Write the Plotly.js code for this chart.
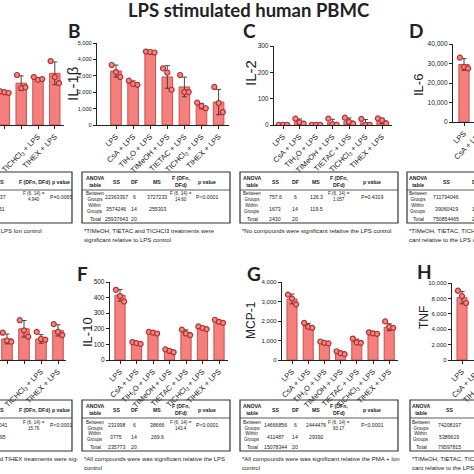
<!DOCTYPE html>
<html><head><meta charset="utf-8">
<script src="https://cdn.plot.ly/plotly-3.0.1.min.js"></script>
<style>html,body{margin:0;padding:0;overflow:hidden;background:#fff;width:474px;height:474px}#plot{width:500px;height:474px}</style>
</head><body><div id="plot"></div><script>
// ---------- data ----------
const categories = ["LPS","CsA + LPS","TIH<sub>2</sub>O + LPS","TIMeOH + LPS","TIETAC + LPS","TICHCl<sub>3</sub> + LPS","TIHEX + LPS"];

// A (axis off-screen, relative units)
const meanA = [null,null,null,40,51,56,63];
const ptsA  = [[],[],[],[41,40,39],[61,45,46],[58.5,55,56],[78,58.5,51]];
// B IL-1beta
const meanB = [3290,2560,4450,2930,2320,1150,1400];
const ptsB  = [[3660,3230,2930],[2700,2500,2450],[4480,4450,4420],[3450,3200,2150],[3050,2010,2010],[1360,1160,1020],[2320,1340,790]];
// C IL-2
const meanC = [1,13,1,9,15,8,16];
const ptsC  = [[1,1,1],[24,10,5],[1,1,1],[24,3,1],[28,12,5],[23,1,1],[25,18,6]];
// D IL-6
const meanD = [29500,null,null,null,null,null,null];
const ptsD  = [[33000,28300,27500],[],[],[],[],[],[]];
// E (axis off-screen, relative units)
const meanE = [null,null,null,27,40,27,38];
const ptsE  = [[],[],[],[35,25,23.5],[51,38,30],[36,27,26],[46,36,32]];
// F IL-10
const meanF = [415,110,175,58,175,205,245];
const ptsF  = [[450,410,375],[115,108,103],[180,176,170],[68,58,50],[195,170,160],[215,205,198],[258,245,238]];
// G MCP-1
const meanG = [3130,1750,880,350,950,1370,1680];
const ptsG  = [[3350,3150,2850],[1900,1700,1650],[950,880,850],[450,350,300],[1100,900,880],[1420,1370,1340],[1980,1700,1650]];
// H TNF
const meanH = [8100,null,null,null,null,null,null];
const ptsH  = [[9000,8300,7400],[],[],[],[],[],[]];

// ANOVA tables (only the columns that fall inside the picture)
const hdrFull = ["ANOVA<br>table","SS","DF","MS","F (DFn,<br>DFd)","p value"];
const hdrA = ["MS","F (DFn, DFd)","p value"];
const hdrD = ["ANOVA<br>table","SS","DF"];
const rowsA = [["1237","F (6, 14) =<br>4.940","P=0.0065"],["251","",""],["","",""]];
const rowsB = [["Between<br>Groups","22363397","6","3727233","F (6, 14) =<br>14.60","P<0.0001"],["Within<br>Groups","3574246","14","255303","",""],["Total","25937643","20","","",""]];
const rowsC = [["Between<br>Groups","757.6","6","126.3","F (6, 14) =<br>1.057","P=0.4319"],["Within<br>Groups","1673","14","119.5","",""],["Total","2430","20","","",""]];
const rowsD = [["Between<br>Groups","711794046","6"],["Within<br>Groups","39060419","14"],["Total","750854465","20"]];
const rowsE = [["41041","F (6, 14) =<br>15.76","P<0.0001"],["2595","",""],["","",""]];
const rowsF = [["Between<br>Groups","231998","6","38666","F (6, 14) =<br>143.4","P<0.0001"],["Within<br>Groups","3775","14","269.6","",""],["Total","235773","20","","",""]];
const rowsG = [["Between<br>Groups","14666856","6","2444476","F (6, 14) =<br>83.17","P<0.0001"],["Within<br>Groups","411487","14","29392","",""],["Total","15078344","20","","",""]];
const rowsH = [["Between<br>Groups","74208197","6"],["Within<br>Groups","5389619","14"],["Total","79597815","20"]];
const noteA = ["relative to LPS Ion control"];
const noteB = ["*TIMeOH, TIETAC and TICHCl3 treatments were","significant relative to LPS control"];
const noteC = ["*No compounds were significant relative the LPS control"];
const noteD = ["*TIMeOH, TIETAC, TICHCl3 and TIHEX","cant relative to the LPS control"];
const noteE = ["and TIHEX treatments were sig-"];
const noteF = ["*All compounds were was significant relative the LPS","control"];
const noteG = ["*All compounds were was significant relative the PMA + Ion","control"];
const noteH = ["*TIMeOH, TIETAC, TICHCl3 and TIHEX","cant relative to the LPS control"];

const axisTitles = ["","IL-1β","IL-2","IL-6","","IL-10","MCP-1","TNF"];
const panelLetters = ["","B","C","D","","F","G","H"];

// ---------- layout helpers ----------
const W=500, H=474;
const FONT="Liberation Sans, Arial, sans-serif";
const INK="#222";
const px=v=>v/W, py=v=>1-v/H;

const panels=[
 {m:meanA,p:ptsA,x:[0,64],y:[43,125],c0:-46,s:16.8,yr:[0,100],showY:false},
 {m:meanB,p:ptsB,x:[97,229],y:[43,125],c0:116,s:17.1,yr:[0,5000],dt:1000,showY:true,tf:5.6,tt:[72,84,15],pl:[74,31]},
 {m:meanC,p:ptsC,x:[274,392],y:[46,125],c0:283,s:16.5,yr:[0,300],dt:100,showY:true,tf:6.5,tt:[250,73,15],pl:[249,31]},
 {m:meanD,p:ptsD,x:[453,500],y:[44,122],c0:464,s:16.5,yr:[0,40000],dt:10000,showY:true,tf:6.5,tt:[418,85,13],pl:[416,31]},
 {m:meanE,p:ptsE,x:[0,66],y:[282,360],c0:-44,s:17,yr:[0,100],showY:false},
 {m:meanF,p:ptsF,x:[110,228],y:[282,360],c0:120,s:16.5,yr:[0,500],dt:100,showY:true,tf:6.5,tt:[87,332,13],pl:[82,273]},
 {m:meanG,p:ptsG,x:[282,398],y:[282,360],c0:292,s:16.2,yr:[0,4000],dt:1000,showY:true,tf:6,tt:[251,320,12],pl:[254,273]},
 {m:meanH,p:ptsH,x:[452,500],y:[283,360],c0:462,s:16.2,yr:[0,10000],dt:2000,showY:true,tf:6,tt:[424,318,12],pl:[424,271]}
];

function sd(a){ if(!a||a.length<2) return null; const mu=a.reduce((s,v)=>s+v,0)/a.length; return Math.sqrt(a.reduce((s,v)=>s+(v-mu)*(v-mu),0)/(a.length-1)); }

const traces=[], layout={width:W,height:H,margin:{l:0,r:0,t:0,b:0},paper_bgcolor:"#fff",plot_bgcolor:"rgba(0,0,0,0)",showlegend:false,separators:".,",annotations:[],shapes:[],font:{family:FONT,color:INK}};
const idx=[0,1,2,3,4,5,6];
const offs=[-0.25,0,0.25];

panels.forEach((P,i)=>{
  const xa=i===0?"x":"x"+(i+1), ya=i===0?"y":"y"+(i+1);
  const xk=i===0?"xaxis":"xaxis"+(i+1), yk=i===0?"yaxis":"yaxis"+(i+1);
  layout[xk]={domain:[px(P.x[0]),px(P.x[1])],range:[(P.x[0]-P.c0)/P.s,(P.x[1]-P.c0)/P.s],anchor:ya,
    tickmode:"array",tickvals:idx,ticktext:categories,tickangle:-45,tickfont:{size:7.5,family:FONT,color:INK},
    showline:true,linecolor:INK,linewidth:1.2,ticks:"outside",ticklen:3,tickwidth:1,tickcolor:INK,showgrid:false,zeroline:false,fixedrange:true};
  layout[yk]={domain:[py(P.y[1]),py(P.y[0])],range:P.yr,anchor:xa,visible:P.showY,
    showline:true,linecolor:INK,linewidth:1.2,ticks:"outside",ticklen:3,tickwidth:1,tickcolor:INK,dtick:P.dt,tick0:0,
    tickformat:",d",tickfont:{size:P.tf||6.5,family:FONT,color:INK},showgrid:false,zeroline:false,fixedrange:true};
  traces.push({type:"bar",x:idx,y:P.m,xaxis:xa,yaxis:ya,width:0.62,
    marker:{color:"#F47F7D",line:{color:"#C9504D",width:1}},
    error_y:{type:"data",array:P.p.map(sd),visible:true,color:"#333",thickness:0.9,width:2.5},hoverinfo:"skip"});
  const xs=[],ys=[];
  P.p.forEach((arr,k)=>arr.forEach((v,j)=>{xs.push(k+offs[j]);ys.push(v);}));
  traces.push({type:"scatter",mode:"markers",x:xs,y:ys,xaxis:xa,yaxis:ya,
    marker:{size:5,color:"#F08A88",line:{color:"#B3302E",width:1.2}},hoverinfo:"skip"});
  if(P.tt&&axisTitles[i]) layout.annotations.push({xref:"paper",yref:"paper",x:px(P.tt[0]),y:py(P.tt[1]),text:axisTitles[i],textangle:-90,showarrow:false,font:{size:P.tt[2],family:FONT,color:INK},xanchor:"center",yanchor:"middle"});
  if(P.pl&&panelLetters[i]) layout.annotations.push({xref:"paper",yref:"paper",x:px(P.pl[0]),y:py(P.pl[1]),text:"<b>"+panelLetters[i]+"</b>",showarrow:false,font:{size:19,family:"Lato, Open Sans, sans-serif",color:INK},xanchor:"center",yanchor:"middle"});
});

// title
layout.annotations.push({xref:"paper",yref:"paper",x:px(249),y:py(10),text:"<b>LPS stimulated human PBMC</b>",showarrow:false,font:{size:18.5,family:"Lato, Open Sans, sans-serif",color:INK},xanchor:"center",yanchor:"middle"});

// tables: geometry (px) only
const tables=[
 {h:hdrA,r:rowsA,n:noteA,noteX:44,noteAnchor:"right",box:[-160,72],top:172,cols:[0,34,61]},
 {h:hdrFull,r:rowsB,n:noteB,box:[82,230],top:172,cols:[95,116,134,157,181,207]},
 {h:hdrFull,r:rowsC,n:noteC,box:[240,398],top:172,cols:[252,275,295,316,339,372]},
 {h:hdrD,r:rowsD,n:noteD,box:[407,620],top:172,cols:[418,446,475]},
 {h:hdrA,r:rowsE,n:noteE,noteX:80,noteAnchor:"right",box:[-160,72],top:400,cols:[0,34,61]},
 {h:hdrFull,r:rowsF,n:noteF,box:[82,230],top:400,cols:[95,116,134,157,181,207]},
 {h:hdrFull,r:rowsG,n:noteG,box:[240,398],top:400,cols:[252,275,295,316,339,372]},
 {h:hdrD,r:rowsH,n:noteH,box:[410,620],top:400,cols:[421,449,477]}
];
const TF=5.2;
tables.forEach(T=>{
  const t=T.top;
  layout.shapes.push({type:"rect",xref:"paper",yref:"paper",x0:px(T.box[0]),x1:px(T.box[1]),y0:py(t),y1:py(t+51),line:{color:"#333",width:1.2}});
  layout.shapes.push({type:"line",xref:"paper",yref:"paper",x0:px(T.box[0]),x1:px(T.box[1]),y0:py(t+18),y1:py(t+18),line:{color:"#333",width:0.8}});
  T.h.forEach((s,c)=>layout.annotations.push({xref:"paper",yref:"paper",x:px(T.cols[c]),y:py(t+9.5),text:"<b>"+s+"</b>",showarrow:false,font:{size:TF,family:FONT,color:INK},xanchor:"center",yanchor:"middle"}));
  const ry=[25,36.5,47];
  T.r.forEach((row,ri)=>row.forEach((s,c)=>{ if(s) layout.annotations.push({xref:"paper",yref:"paper",x:px(T.cols[c]),y:py(t+ry[ri]),text:s,showarrow:false,font:{size:(s.indexOf("<br>")>=0?4.6:TF),family:FONT,color:INK},xanchor:"center",yanchor:"middle"}); }));
  T.n.forEach((s,li)=>layout.annotations.push({xref:"paper",yref:"paper",x:px(T.noteX!==undefined?T.noteX:T.box[0]),y:py(t+59+li*8.5),text:s,showarrow:false,font:{size:6,family:FONT,color:INK},xanchor:T.noteAnchor||"left",yanchor:"middle"}));
});

Plotly.newPlot("plot",traces,layout,{staticPlot:true,displayModeBar:false});
</script></body></html>
